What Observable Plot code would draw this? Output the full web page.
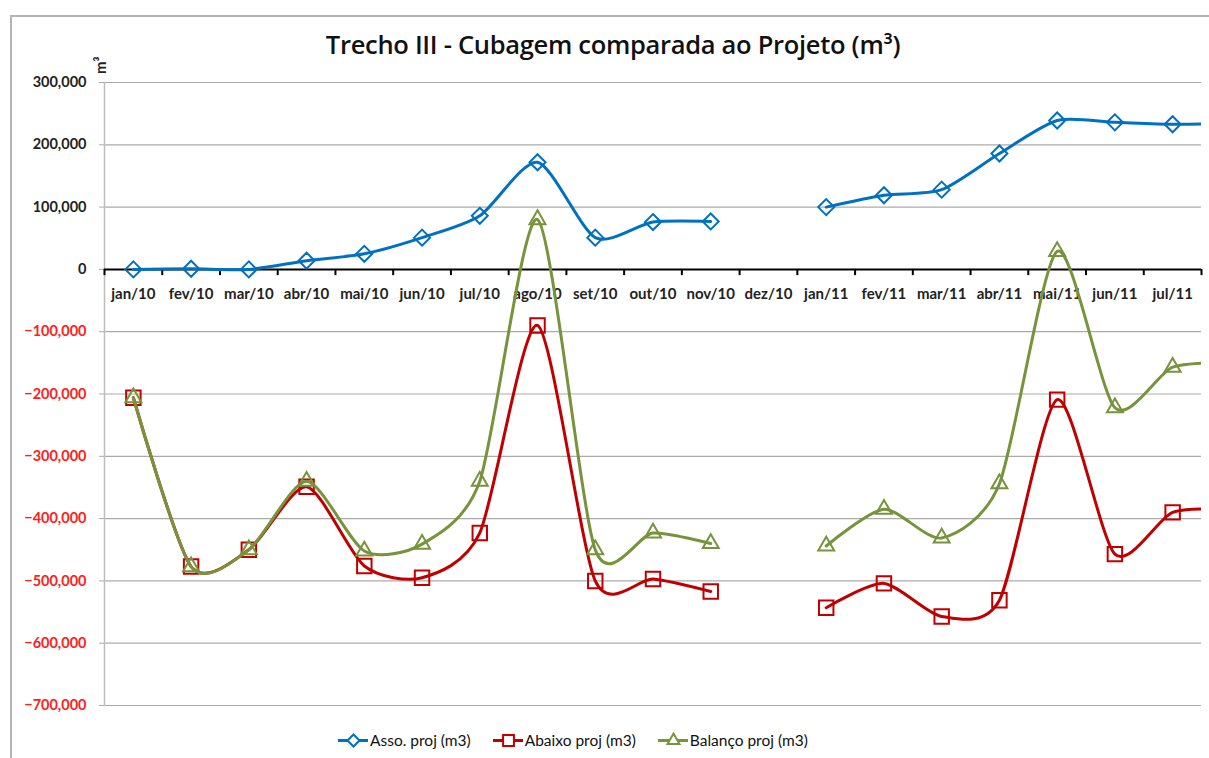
<!DOCTYPE html>
<html>
<head>
<meta charset="utf-8">
<script src="https://cdn.jsdelivr.net/npm/d3@7"></script>
<script src="https://cdn.jsdelivr.net/npm/@observablehq/plot@0.6"></script>
<style>
  body { margin: 0; background: #fff; }
  #wrap { position: relative; width: 1209px; height: 758px; overflow: hidden; font-family: Lato, "Open Sans", sans-serif; }
  #border { position: absolute; left: 10px; top: 15px; width: 1300px; height: 800px; border-left: 2px solid #b4b4b4; border-top: 2px solid #b4b4b4; }
  #title { position: absolute; left: 0; width: 1226px; top: 27px; text-align: center; font-size: 25.5px; font-weight: 600; color: #111; font-family: "Open Sans", Lato, sans-serif; letter-spacing: -0.3px; }
  #ylab { position: absolute; left: 91px; top: 74px; transform: rotate(-90deg); transform-origin: left top; font-size: 15px; font-weight: bold; color: #222; }
  #chart { position: absolute; left: 0; top: 0; }
  #legend { position: absolute; top: 731px; left: 338px; display: flex; align-items: center; font-size: 15.5px; color: #111; }
  #legend .item { display: flex; align-items: center; margin-right: 22px; }
  #legend svg { margin-right: 2px; }
</style>
</head>
<body>
<div id="wrap">
  <div id="border"></div>
  <div id="title">Trecho III - Cubagem comparada ao Projeto (m³)</div>
  <div id="ylab">m³</div>
  <div id="chart"></div>
  <div id="legend"></div>
</div>
<script>
// Categories (ago/11 exists in the data but lies beyond the visible axis)
const months = ["jan/10","fev/10","mar/10","abr/10","mai/10","jun/10","jul/10","ago/10","set/10","out/10","nov/10","dez/10",
                "jan/11","fev/11","mar/11","abr/11","mai/11","jun/11","jul/11","ago/11"];
const visibleMonths = months.slice(0, 19);

const asso    = [0, 1000, 0, 14000, 25000, 51000, 86000, 172000, 51000, 76000, 77000, null,
                 100000, 119000, 128000, 186000, 239000, 236000, 233000, 234000];
const abaixo  = [-206000, -477000, -450000, -349000, -476000, -495000, -423000, -90000, -500000, -497000, -517000, null,
                 -543000, -504000, -557000, -531000, -209000, -457000, -390000, -386000];
const balanco = [-206000, -477000, -450000, -340000, -452000, -441000, -340000, 80000, -450000, -423000, -440000, null,
                 -444000, -385000, -431000, -344000, 29000, -222000, -157000, -150000];

const posTicks = [0, 100000, 200000, 300000];
const negTicks = [-700000, -600000, -500000, -400000, -300000, -200000, -100000];

const seriesNames = ["Asso. proj (m3)", "Abaixo proj (m3)", "Balanço proj (m3)"];
const colors = ["#0070C0", "#C00000", "#77933C"];
const symbols = ["diamond2", "square2", "triangle2"];
const radii = [7.2, 9.2, 7.6];

const allSeries = [asso, abaixo, balanco];
const tables = allSeries.map(vals => months.map((m, i) => ({i, m, v: vals[i]})));
const boundaries = d3.range(-0.5, visibleMonths.length, 1);

const marks = [
  Plot.ruleY([...negTicks, ...posTicks.filter(t => t !== 0)], {stroke: "#ababab", strokeWidth: 1.2}),
  Plot.frame({anchor: "left", stroke: "#bdbdbd", strokeWidth: 1.5}),
  Plot.axisY(posTicks, {label: null, tickFormat: d3.format(","), tickSize: 5, stroke: "#ababab", fill: "#222", fontWeight: "bold", fontSize: 14.5, tickPadding: 13}),
  Plot.axisY(negTicks, {label: null, tickFormat: d3.format(","), tickSize: 5, stroke: "#ababab", fill: "#ff2020", fontWeight: "bold", fontSize: 14.5, tickPadding: 13}),
  Plot.ruleY([0], {stroke: "#000", strokeWidth: 2}),
  Plot.ruleX(boundaries, {y1: 0, y2: -10000, stroke: "#000", strokeWidth: 2}),
  Plot.text(visibleMonths, {x: (d, i) => i, y: () => 0, text: d => d, dy: 25, fontWeight: "bold", fontSize: 15, fill: "#222"})
];
tables.forEach((t, k) => {
  marks.push(Plot.line(t, {x: "i", y: "v", curve: "cardinal", tension: 0.25, stroke: colors[k], strokeWidth: 3, clip: true}));
  marks.push(Plot.dot(t, {x: "i", y: "v", symbol: symbols[k], r: radii[k], stroke: colors[k], strokeWidth: 2, fill: "none", clip: true}));
});

const chart = Plot.plot({
  width: 1209,
  height: 720,
  marginTop: 82,
  marginBottom: 15,
  marginLeft: 104,
  marginRight: 8,
  style: {fontFamily: "Lato, 'Open Sans', sans-serif", background: "transparent"},
  x: {domain: [-0.5, visibleMonths.length - 0.5], axis: null},
  y: {domain: [-700000, 300000], axis: null},
  marks
});
document.getElementById("chart").appendChild(chart);

// Legend
const legend = document.getElementById("legend");
seriesNames.forEach((name, k) => {
  const item = document.createElement("div");
  item.className = "item";
  const sw = Plot.plot({
    width: 30, height: 16, margin: 0,
    x: {domain: [0, 2], axis: null}, y: {domain: [0, 1], axis: null},
    style: {background: "transparent"},
    marks: [
      Plot.line([{x: 0, y: 0.5}, {x: 2, y: 0.5}], {x: "x", y: "y", stroke: colors[k], strokeWidth: 3}),
      Plot.dot([{x: 1, y: 0.5}], {x: "x", y: "y", symbol: symbols[k], r: radii[k] * 0.75, stroke: colors[k], strokeWidth: 2, fill: "white"})
    ]
  });
  item.appendChild(sw);
  const lab = document.createElement("span");
  lab.textContent = name;
  item.appendChild(lab);
  legend.appendChild(item);
});
</script>
</body>
</html>
